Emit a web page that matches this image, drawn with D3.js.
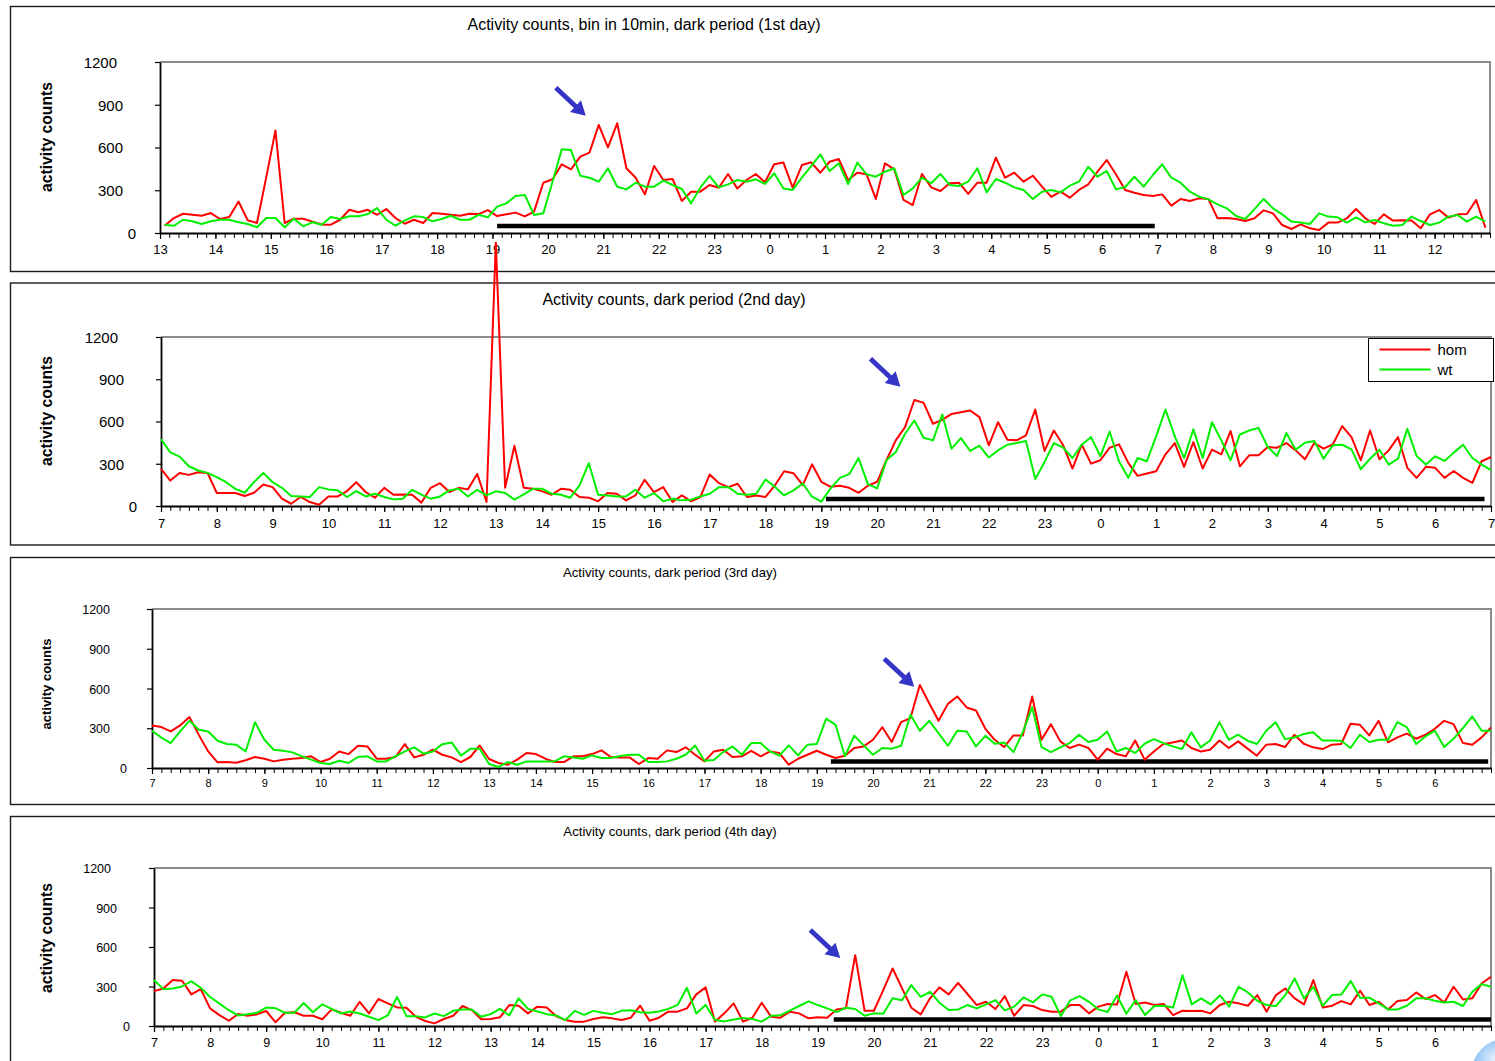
<!DOCTYPE html>
<html>
<head>
<meta charset="utf-8">
<script src="https://cdn.jsdelivr.net/npm/d3@7"></script>
<style>
  body { margin: 0; background: #fff; }
  svg { display: block; }
  text { font-family: "Liberation Sans", Arial, Helvetica, sans-serif; fill: #000; }
</style>
</head>
<body>
<svg id="chart" width="1495" height="1061"></svg>
<script>
// ---- tick labels -------------------------------------------------------
const hoursDay1 = ["13","14","15","16","17","18","19","20","21","22","23","0",
                   "1","2","3","4","5","6","7","8","9","10","11","12"];
const hoursDark = ["7","8","9","10","11","12","13","14","15","16","17","18","19",
                   "20","21","22","23","0","1","2","3","4","5","6","7"];
// sample index of each hour mark (one 10-min sample missing in the 13h hour)
const tickIdxDark = [0,6,12,18,24,30,36,41,47,53,59,65,71,77,83,89,95,101,107,113,119,125,131,137,143];
const yTicks = [0, 300, 600, 900, 1200];

// ---- activity counts, 10-min bins --------------------------------------
// day 1 : 13:00 -> 13:00
const homDay1 = [51,105,135,128,121,140,98,112,221,89,70,390,720,70,100,100,80,60,
  58,93,163,145,163,128,168,105,65,93,70,140,135,128,121,135,133,
  161,119,131,143,117,150,353,377,482,447,536,564,758,601,770,454,388,271,470,372,
  379,225,290,290,337,318,414,313,372,414,356,482,494,318,477,496,423,500,519,372,
  423,412,239,489,447,232,196,414,320,295,349,353,274,353,353,
  529,388,423,360,402,325,253,290,248,302,341,430,512,412,302,283,267,260,271,192,
  239,225,243,239,103,105,98,84,103,159,138,56,28,61,33,21,73,73,103,168,
  103,63,131,87,89,87,33,131,161,108,131,133,232,37];
const wtDay1 = [58,51,93,82,63,82,93,93,75,63,40,105,105,40,100,47,75,58,112,98,
  117,117,133,175,93,51,89,117,112,82,98,121,93,93,128,
  110,185,208,260,267,126,138,360,587,582,402,388,360,454,325,306,353,325,325,367,
  337,309,208,318,400,320,341,372,360,377,344,419,313,302,388,470,552,435,489,344,
  494,412,395,430,454,267,313,388,349,414,337,330,360,454,285,
  379,353,320,302,239,290,302,285,332,360,465,395,435,306,323,395,325,407,482,388,
  353,290,255,236,201,173,119,98,168,239,173,131,80,73,63,138,115,110,73,110,
  75,91,68,51,56,115,84,56,73,115,126,80,115,80];

// day 2 : 07:00 -> 07:00
const homDay2 = [264,181,235,221,240,235,92,92,92,71,94,153,134,52,16,64,28,9,68,68,
  106,169,99,59,129,80,82,80,24,129,162,99,129,118,228,28,
  1870,
  129,428,129,122,104,80,122,115,64,59,33,92,87,40,75,186,99,134,28,75,33,64,224,162,134,158,
  64,75,64,146,247,233,
  148,296,172,136,144,129,94,144,172,325,466,560,753,732,584,612,654,666,678,631,
  431,595,471,466,501,685,391,536,431,266,435,301,325,414,438,306,214,
  231,247,367,447,278,454,266,400,367,532,282,360,360,419,414,447,395,332,447,407,
  438,567,489,325,536,332,395,489,271,200,278,271,200,249,200,165,318,348];
const wtDay2 = [475,381,351,282,252,235,205,169,122,94,169,235,169,129,71,68,64,134,118,111,
  64,106,68,87,64,47,52,115,80,52,68,111,122,68,115,75,104,92,45,82,
  122,122,87,80,59,146,304,80,75,68,68,115,59,92,33,52,40,45,68,87,134,134,87,
  80,87,188,136,75,111,
  160,66,31,125,200,226,341,155,125,325,384,513,607,485,466,649,407,482,391,428,
  344,395,435,447,461,191,313,447,414,341,435,489,353,529,318,200,341,
  318,494,685,494,341,544,341,595,466,325,508,536,555,419,355,518,400,449,461,336,
  431,435,402,261,336,400,294,336,548,355,294,353,320,379,435,341,294,254];

// day 3 : 07:00 -> 07:00
const homDay3 = [321,309,276,321,384,250,125,43,45,40,58,83,70,50,63,70,75,88,45,70,
  125,105,168,163,70,70,83,180,80,100,138,100,80,45,83,170,68,38,25,63,
  113,105,70,45,45,88,88,105,133,83,80,80,30,75,70,133,120,156,100,50,125,138,83,
  88,130,88,125,113,25,70,100,130,100,75,93,151,163,213,308,196,346,377,627,
  489,356,484,540,457,434,296,213,158,246,246,540,213,331,201,151,176,151,63,146,
  105,88,208,63,125,181,193,208,151,125,138,208,151,201,146,93,176,181,158,251,
  183,156,143,176,181,334,326,246,356,193,231,259,221,251,296,356,331,188,176,231,306];
const wtDay3 = [280,230,188,276,356,289,276,206,181,176,125,346,213,138,130,118,88,63,38,30,
  55,38,83,88,50,50,88,125,156,108,125,180,193,93,146,146,30,8,45,25,
  50,50,50,50,88,80,70,95,75,75,90,100,100,45,45,50,70,100,170,55,60,120,163,
  100,188,188,125,93,171,95,176,181,372,326,88,244,171,100,151,146,168,402,281,
  356,264,168,281,276,163,243,183,193,120,271,459,158,120,156,188,251,196,213,276,
  125,151,113,183,218,188,163,143,269,156,208,346,213,251,206,181,281,346,218,231,
  256,269,208,208,206,151,251,196,213,213,346,309,181,238,281,158,221,301,389,281,281];

// day 4 : 07:00 -> 07:00
const homDay4 = [265,285,349,344,240,280,134,83,40,91,78,88,114,28,101,104,78,78,51,126,
  101,78,184,96,205,172,141,139,71,38,20,53,78,152,121,51,53,66,159,154,
  96,147,141,76,45,33,33,53,66,58,45,63,154,40,63,109,109,134,240,293,33,96,172,
  33,63,177,71,63,109,96,58,66,63,126,134,538,116,116,273,437,288,139,88,
  210,293,240,328,243,159,184,129,227,78,159,152,121,109,109,159,159,96,147,167,
  164,412,167,179,159,167,83,116,114,116,96,159,184,172,154,235,109,235,285,210,
  164,349,141,154,189,164,268,159,184,126,189,197,255,205,235,179,298,202,210,323,374];
const wtDay4 = [350,280,285,300,340,290,220,170,120,80,90,100,140,135,100,100,175,105,165,130,
  95,110,95,70,45,80,220,75,75,65,95,75,115,125,125,70,90,130,80,210,
  130,110,90,80,45,115,85,115,100,90,115,120,105,100,110,130,160,290,95,160,45,35,50,
  61,53,33,78,81,116,152,187,159,134,106,139,129,78,96,93,210,195,311,222,
  260,177,121,126,159,134,164,197,119,147,217,179,240,222,76,195,227,184,126,106,
  232,93,197,83,152,154,141,386,164,210,164,232,147,298,255,192,159,152,235,361,
  210,298,154,235,240,341,215,215,172,126,126,154,210,210,192,179,184,152,260,318,298];

// dark period bar (sample position) and the arrow target (sample position, count)
const darkBars   = [[36.5, 107.7], [71.5, 142.3], [72.5, 142.7], [72.7, 143]];
const darkLevel  = 50;
const arrowTips  = [[46.1, 823], [79.5, 847], [81.4, 614], [73.4, 516]];

const seriesNames = ["hom", "wt"];
const seriesColors = { hom: "#ff0000", wt: "#00f000" };

// ---- layout of the four stacked panels ----------------------------------
const panels = [
  { title: "Activity counts, bin in 10min, dark period (1st day)", hom: homDay1, wt: wtDay1,
    frame: [6.5, 271.5], l: 160, r: 1490, t: 62, b: 233, steps: 144, offset: 0.5,
    tickIdx: d3.range(0, 144, 6), labels: hoursDay1,
    titleX: 644, titleY: 30, titleSize: 16, yFont: 15, xFont: 13, xLabelY: 254,
    yTitleY: 137, yTitleSize: 15.7, small: false, legend: false },
  { title: "Activity counts, dark period (2nd day)", hom: homDay2, wt: wtDay2,
    frame: [283, 545], l: 161, r: 1491, t: 337, b: 506, steps: 143, offset: 0,
    tickIdx: tickIdxDark, labels: hoursDark,
    titleX: 674, titleY: 305, titleSize: 16, yFont: 15, xFont: 13, xLabelY: 528,
    yTitleY: 411, yTitleSize: 15.7, small: false, legend: true },
  { title: "Activity counts, dark period (3rd day)", hom: homDay3, wt: wtDay3,
    frame: [557.5, 804.5], l: 152, r: 1491, t: 609, b: 768, steps: 143, offset: 0,
    tickIdx: tickIdxDark.slice(0, 24), labels: hoursDark,
    titleX: 670, titleY: 577, titleSize: 13.2, yFont: 12.5, xFont: 11, xLabelY: 787,
    yTitleY: 684, yTitleSize: 13, small: true, legend: false },
  { title: "Activity counts, dark period (4th day)", hom: homDay4, wt: wtDay4,
    frame: [816.5, 1075], l: 154, r: 1491, t: 868, b: 1026, steps: 143, offset: 0,
    tickIdx: tickIdxDark.slice(0, 24), labels: hoursDark,
    titleX: 670, titleY: 836, titleSize: 13.2, yFont: 12.5, xFont: 12.5, xLabelY: 1047,
    yTitleY: 938, yTitleSize: 15.7, small: false, legend: false }
];

const svg = d3.select("#chart");
svg.append("rect").attr("width", 1495).attr("height", 1061).attr("fill", "#fff");

// panel frames first, so curves spilling out of a panel stay visible
panels.forEach(p => {
  svg.append("rect")
    .attr("x", 10.5).attr("y", p.frame[0])
    .attr("width", 1500).attr("height", p.frame[1] - p.frame[0])
    .attr("fill", "none").attr("stroke", "#1a1a1a").attr("stroke-width", 1.4);
});

function yLabelGap(v, p) {
  if (p.small) return v === 0 ? 25 : 42;
  if (v === 0) return 24;
  return v >= 1000 ? 43 : 37;
}

function drawArrow(g, tx, ty) {
  const ux = 0.731, uy = 0.682;          // pointing down-right
  const nx = -uy, ny = ux;
  const len = 41, headLen = 14, headW = 8, shaftW = 2.4;
  const bx = tx - ux * headLen, by = ty - uy * headLen;
  const sx = tx - ux * len, sy = ty - uy * len;
  const pts = [
    [sx + nx * shaftW, sy + ny * shaftW],
    [bx + nx * shaftW, by + ny * shaftW],
    [bx + nx * headW, by + ny * headW],
    [tx, ty],
    [bx - nx * headW, by - ny * headW],
    [bx - nx * shaftW, by - ny * shaftW],
    [sx - nx * shaftW, sy - ny * shaftW]
  ];
  g.append("path").attr("d", "M" + pts.map(q => q.join(",")).join("L") + "Z")
    .attr("fill", "#3434c6");
}

panels.forEach((p, k) => {
  const g = svg.append("g");
  const x = d3.scaleLinear().domain([0, p.steps]).range([p.l, p.r]);
  const y = d3.scaleLinear().domain([0, 1200]).range([p.b, p.t]);

  // title
  g.append("text").attr("x", p.titleX).attr("y", p.titleY)
    .attr("text-anchor", "middle").attr("font-size", p.titleSize).text(p.title);

  // grey top / right edge of plot area
  g.append("path").attr("d", `M${p.l},${p.t}H${p.r}V${p.b}`)
    .attr("fill", "none").attr("stroke", "#8c8c8c").attr("stroke-width", 2);

  // y axis
  const yAx = g.append("g").attr("transform", `translate(${p.l},0)`)
    .call(d3.axisLeft(y).tickValues(yTicks).tickSize(5).tickSizeOuter(0).tickFormat(d3.format("d")));
  yAx.select(".domain").attr("stroke", "#000").attr("stroke-width", 1.8);
  yAx.selectAll(".tick line").attr("stroke", "#000").attr("stroke-width", 1.2);
  yAx.selectAll(".tick text")
    .attr("x", d => -yLabelGap(d, p)).attr("dy", "0.36em")
    .attr("font-size", p.yFont).attr("font-family", null).attr("fill", "#000");

  // x axis: 10-minute ticks, then hour ticks with labels
  const xMinor = g.append("g").attr("transform", `translate(0,${p.b})`)
    .call(d3.axisBottom(x).tickValues(d3.range(0, p.steps + 1)).tickSize(5).tickSizeOuter(0).tickFormat(""));
  xMinor.select(".domain").attr("stroke", "#000").attr("stroke-width", 1.8);
  xMinor.selectAll(".tick line").attr("stroke", "#000").attr("stroke-width", 1);

  const xMajor = g.append("g").attr("transform", `translate(0,${p.b})`)
    .call(d3.axisBottom(x).tickValues(p.tickIdx).tickSize(6).tickSizeOuter(0)
      .tickFormat((d, i) => p.labels[i]));
  xMajor.select(".domain").remove();
  xMajor.selectAll(".tick line").attr("stroke", "#000").attr("stroke-width", 1.2);
  xMajor.selectAll(".tick text")
    .attr("y", p.xLabelY - p.b).attr("dy", 0)
    .attr("font-size", p.xFont).attr("font-family", null).attr("fill", "#000");

  // y axis title
  g.append("text")
    .attr("transform", `translate(46,${p.yTitleY}) rotate(-90)`)
    .attr("text-anchor", "middle").attr("dy", "0.35em")
    .attr("font-weight", "bold").attr("font-size", p.yTitleSize)
    .text("activity counts");

  // dark period bar
  g.append("line")
    .attr("x1", x(darkBars[k][0])).attr("x2", x(darkBars[k][1]))
    .attr("y1", y(darkLevel)).attr("y2", y(darkLevel))
    .attr("stroke", "#000").attr("stroke-width", 4.5);

  // series
  seriesNames.forEach(name => {
    const line = d3.line()
      .x((d, i) => x(i + p.offset))
      .y(d => y(d));
    g.append("path").datum(p[name])
      .attr("d", line)
      .attr("fill", "none")
      .attr("stroke", seriesColors[name])
      .attr("stroke-width", 2)
      .attr("stroke-linejoin", "round");
  });

  // arrow marking the activity peak after lights off
  drawArrow(g, x(arrowTips[k][0]), y(arrowTips[k][1]));

  // legend
  if (p.legend) {
    const lg = g.append("g").attr("transform", "translate(1368.5,338.5)");
    lg.append("rect").attr("width", 125).attr("height", 43)
      .attr("fill", "#fff").attr("stroke", "#000").attr("stroke-width", 1);
    seriesNames.forEach((name, i) => {
      const yy = 11 + i * 20;
      lg.append("line").attr("x1", 11).attr("x2", 62).attr("y1", yy).attr("y2", yy)
        .attr("stroke", seriesColors[name]).attr("stroke-width", 2);
      lg.append("text").attr("x", 69).attr("y", yy).attr("dy", "0.36em")
        .attr("font-size", 15).text(name);
    });
  }
});

// glossy round badge at the lower right corner
const defs = svg.append("defs");
const rg = defs.append("radialGradient").attr("id", "badge").attr("cx", "35%").attr("cy", "30%").attr("r", "70%");
rg.append("stop").attr("offset", "0%").attr("stop-color", "#e6f2ff");
rg.append("stop").attr("offset", "45%").attr("stop-color", "#8ec3f2");
rg.append("stop").attr("offset", "100%").attr("stop-color", "#2f7fd8");
svg.append("circle").attr("cx", 1505).attr("cy", 1072).attr("r", 33).attr("fill", "url(#badge)");
</script>
</body>
</html>
